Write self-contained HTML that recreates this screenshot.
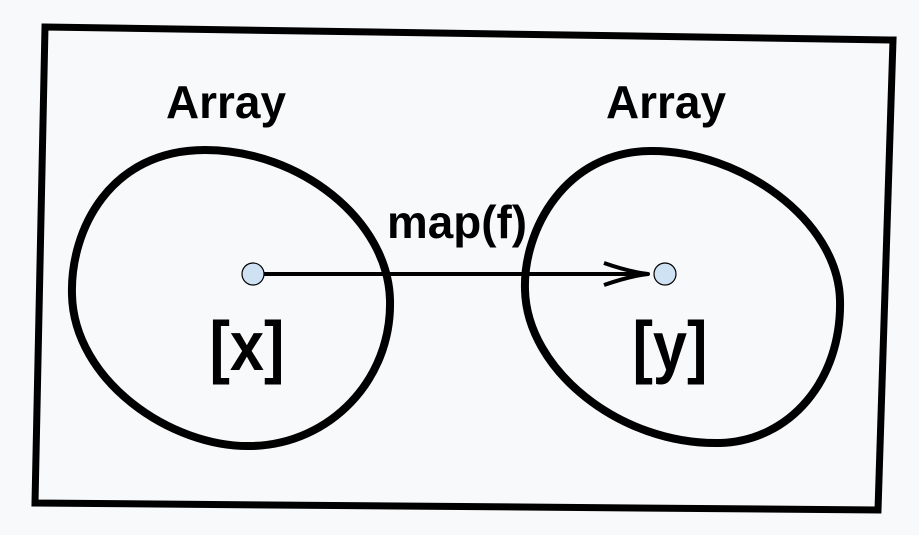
<!DOCTYPE html>
<html><head><meta charset="utf-8"><style>
html,body{margin:0;padding:0;background:#f8f9fb;}
svg{display:block;}
text{font-family:"Liberation Sans",sans-serif;font-weight:bold;fill:#000;}
</style></head><body>
<svg width="919" height="535" viewBox="0 0 919 535">
<rect width="919" height="535" fill="#f8f9fb"/>
<polygon points="45,27 893,40 878,510 35,503" fill="#f8f9fb" stroke="#000" stroke-width="7" stroke-linejoin="miter"/>
<path d="M 205 150 C 110 150, 70 230, 72 295 C 74 380, 170 448, 252 446 C 330 444, 392 380, 390 300 C 388 220, 300 150, 205 150 Z" fill="none" stroke="#000" stroke-width="8"/>
<path d="M 650 151 C 565 152, 523 230, 525 290 C 527 370, 620 445, 720 443 C 790 441, 842 380, 840 300 C 838 220, 740 150, 650 151 Z" fill="none" stroke="#000" stroke-width="8"/>
<text x="226" y="118" font-size="46" text-anchor="middle" textLength="120" lengthAdjust="spacingAndGlyphs">Array</text>
<text x="666" y="118" font-size="46" text-anchor="middle" textLength="120" lengthAdjust="spacingAndGlyphs">Array</text>
<text x="457" y="238" font-size="46" text-anchor="middle" textLength="140" lengthAdjust="spacingAndGlyphs">map(f)</text>
<text x="247" y="370" font-size="70" text-anchor="middle" textLength="75" lengthAdjust="spacingAndGlyphs">[x]</text>
<text x="670" y="370" font-size="70" text-anchor="middle" textLength="75" lengthAdjust="spacingAndGlyphs">[y]</text>
<line x1="264" y1="274" x2="648" y2="274" stroke="#000" stroke-width="4"/>
<path d="M 604 263 Q 630 272 648 274 Q 630 276 604 285" fill="none" stroke="#000" stroke-width="4" stroke-linejoin="round"/>
<circle cx="253" cy="274" r="11" fill="#cfe2f3" stroke="#000" stroke-width="1.2"/>
<circle cx="665" cy="274" r="11" fill="#cfe2f3" stroke="#000" stroke-width="1.2"/>
</svg>
</body></html>
